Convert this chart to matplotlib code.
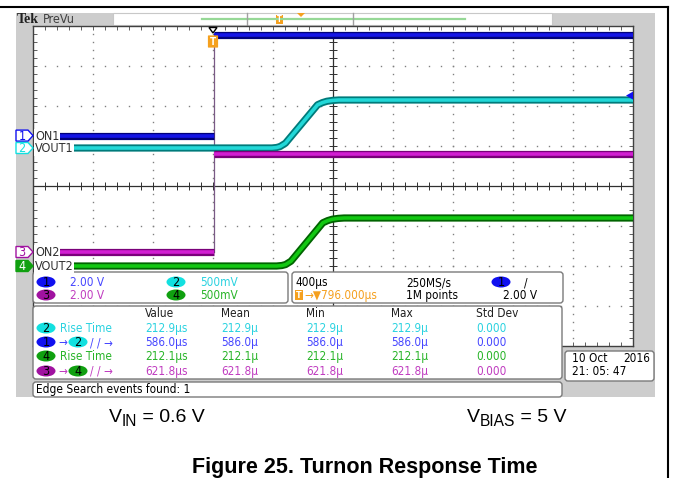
import matplotlib
matplotlib.use('Agg')
import matplotlib.pyplot as plt
from matplotlib.patches import Rectangle, FancyBboxPatch, Polygon, Ellipse
import numpy as np

plt.rcParams['font.family'] = ['Liberation Sans Narrow', 'DejaVu Sans']
plt.rcParams['font.stretch'] = 'condensed'

# time base: trigger at t = 0, 400 us/div, center is 796 us after trigger
t_div = 400.0
t_center = 796.0

# enable steps (us, V)
on1_t = [-1057, 0, 0, 2796]
on1_v = [0.0, 0.0, 5.05, 5.05]
on2_t = [-1057, 0, 0, 2796]
on2_v = [0.0, 0.0, 4.9, 4.9]

# output ramps (us, V)
vout1_t = [-957, 389, 420, 443, 479, 586, 693, 725, 755, 795, 835, 2796]
vout1_v = [0.0, 0.0, 0.006, 0.018, 0.06, 0.30, 0.54, 0.567, 0.584, 0.595, 0.6, 0.6]
vout2_t = [-957, 420, 455, 480, 516, 622, 728, 760, 790, 830, 870, 2796]
vout2_v = [0.0, 0.0, 0.006, 0.018, 0.06, 0.30, 0.54, 0.567, 0.584, 0.595, 0.6, 0.6]

ch_names = ['ON1', 'VOUT1', 'ON2', 'VOUT2']
volts_div = [2.0, 0.5, 2.0, 0.5]
scale_txt = ['2.00 V', '500mV', '2.00 V', '500mV']

meas_head = ['Value', 'Mean', 'Min', 'Max', 'Std Dev']
meas_rows = [
    ['212.9\u03bcs', '212.9\u03bc', '212.9\u03bc', '212.9\u03bc', '0.000'],
    ['586.0\u03bcs', '586.0\u03bc', '586.0\u03bc', '586.0\u03bc', '0.000'],
    ['212.1\u03bcs', '212.1\u03bc', '212.1\u03bc', '212.1\u03bc', '0.000'],
    ['621.8\u03bcs', '621.8\u03bc', '621.8\u03bc', '621.8\u03bc', '0.000'],
]

# per channel: ground position (div), trace dark/light, text colour, badge fill
ch_pos = [1.26, 0.95, -1.65, -2.0]
ch_dark = ['#00007a', '#007b7b', '#7a007a', '#006400']
ch_light = ['#1414e6', '#22d8d8', '#d21ed2', '#12c812']
ch_text = ['#4646ff', '#2ad2e0', '#c03cc0', '#28b428']
ch_badge = ['#1010f0', '#12e0e0', '#a012a0', '#10a010']
orange = '#f5a01e'

W, H = 673, 478
fig = plt.figure(figsize=(W / 100, H / 100), dpi=100)

# background layer (page + scope bezel)
bg = fig.add_axes([0, 0, 1, 1], zorder=0)
bg.set_xlim(0, W)
bg.set_ylim(H, 0)
bg.axis('off')
bg.add_patch(Rectangle((16, 13), 639, 384, color='#cdcdcd', lw=0))
bg.add_patch(Rectangle((113, 13), 439, 12, facecolor='white', edgecolor='#c8c8c8', lw=0.8))
bg.plot([0, 668], [7, 7], color='black', lw=1.5)
bg.plot([668, 668], [7, H], color='black', lw=1.5)
bg.plot([202, 465], [19, 19], color='#96d896', lw=1.6)
bg.plot([247, 247], [13, 25], color='#a0a0a0', lw=1.0)
bg.plot([353, 353], [13, 25], color='#a0a0a0', lw=1.0)
bg.add_patch(Rectangle((276, 14.5), 6.5, 9, color=orange, lw=0))
bg.text(279.2, 19.5, 'T', color='white', fontsize=5.5, ha='center', va='center', fontweight='bold')
bg.add_patch(Polygon([(297, 13), (305, 13), (301, 17)], color=orange, lw=0))
bg.text(17, 19.5, 'Tek', fontsize=10, fontweight='bold', family=['Liberation Serif'],
        va='center', ha='left', color='#202020')
bg.text(43, 19.5, 'PreVu', fontsize=9, va='center', ha='left', color='#404040')

# graticule
ax = fig.add_axes([33 / W, 1 - 346 / H, 600 / W, 320 / H], zorder=1)
x0 = t_center - 5 * t_div
x1 = t_center + 5 * t_div
ax.set_xlim(x0, x1)
ax.set_ylim(-4, 4)
ax.set_facecolor('white')
for s in ax.spines.values():
    s.set_color('#404040')
    s.set_linewidth(1.0)
minor_x = x0 + np.arange(0, 51) * t_div / 5
minor_y = -4 + np.arange(0, 41) * 0.2
ax.set_xticks(minor_x[1:-1])
ax.set_yticks(minor_y[1:-1])
ax.tick_params(direction='in', length=3, width=0.7, color='#606060',
               top=True, right=True, labelbottom=False, labelleft=False)

for k in range(1, 10):
    if k == 5:
        continue
    xv = x0 + k * t_div
    ax.plot(np.full(len(minor_y) - 2, xv), minor_y[1:-1], ls='none', marker='s',
            ms=1.0, color='#808080', mew=0)
for yv in [-3, -2, -1, 1, 2, 3]:
    ax.plot(minor_x[1:-1], np.full(len(minor_x) - 2, yv), ls='none', marker='s',
            ms=1.0, color='#808080', mew=0)
ax.axhline(0, color='#303030', lw=0.9)
ax.axvline(t_center, color='#303030', lw=0.9)
ax.plot(minor_x[1:-1], np.zeros(len(minor_x) - 2), ls='none', marker='|', ms=6,
        mew=0.7, color='#303030')
ax.plot(np.full(len(minor_y) - 2, t_center), minor_y[1:-1], ls='none', marker='_', ms=6,
        mew=0.7, color='#303030')


def band(t, v, ch):
    y = [ch_pos[ch] + vv / volts_div[ch] for vv in v]
    ax.plot(t, y, color=ch_dark[ch], lw=5.2, solid_capstyle='butt', solid_joinstyle='round', zorder=3)
    ax.plot(t, y, color=ch_light[ch], lw=2.6, solid_capstyle='butt', solid_joinstyle='round', zorder=4)


def step(t, v, ch):
    band(t[0:2], v[0:2], ch)
    band(t[2:4], v[2:4], ch)


step(on1_t, on1_v, 0)
band(vout1_t, vout1_v, 1)
step(on2_t, on2_v, 2)
band(vout2_t, vout2_v, 3)
# fast enable edges show as a single thin line at the trigger
ax.plot([0, 0], [ch_pos[0] + on1_v[2] / volts_div[0], ch_pos[2] + on2_v[1] / volts_div[2]],
        color='#7a5a86', lw=0.9, zorder=2)

# overlay: labels, markers and readouts
ov = fig.add_axes([0, 0, 1, 1], zorder=2)
ov.set_xlim(0, W)
ov.set_ylim(H, 0)
ov.axis('off')
ov.patch.set_alpha(0)


def px_y(div):
    return 186 - 40 * div


fs = 8.5

# channel ground markers and names
for i in range(4):
    yc = px_y(ch_pos[i])
    filled = i == 3
    ov.add_patch(Polygon([(16, yc - 5.5), (28, yc - 5.5), (33, yc), (28, yc + 5.5), (16, yc + 5.5)],
                         facecolor=ch_badge[i] if filled else 'white', edgecolor=ch_badge[i], lw=1.0))
    ov.text(22, yc + 0.5, str(i + 1), fontsize=9, ha='center', va='center',
            color='white' if filled else ch_badge[i])
    ov.text(35, yc + 0.5, ch_names[i], fontsize=9, ha='left', va='center', color='#303030',
            bbox=dict(boxstyle='square,pad=0.05', fc='white', ec='none'))

# trigger position and level markers
ov.add_patch(Polygon([(209, 27.5), (217, 27.5), (213, 33)], facecolor='white', edgecolor='black', lw=1.0))
ov.add_patch(FancyBboxPatch((208.5, 36), 9, 11, boxstyle='round,pad=0.6', color=orange, lw=0))
ov.text(213, 41.8, 'T', color='white', fontsize=7, ha='center', va='center', fontweight='bold')
ty = px_y(ch_pos[0] + 2.0 / volts_div[0])
ov.add_patch(Polygon([(626, ty), (633, ty - 4), (633, ty + 4)], color='#1010f0', lw=0))


def panel(x, y, w, h):
    ov.add_patch(FancyBboxPatch((x + 3, y + 3), w - 6, h - 6, boxstyle='round,pad=3',
                                facecolor='white', edgecolor='#7a7a7a', lw=1.0))


def badge(x, y, ch):
    ov.add_patch(Ellipse((x, y), 19, 11, color=ch_badge[ch], lw=0))
    ov.text(x, y + 0.5, str(ch + 1), fontsize=9, ha='center', va='center', color='black')


panel(33, 272, 255, 31)
panel(292, 272, 271, 31)
panel(33, 306, 529, 73)
panel(33, 382, 529, 15)
panel(565, 351, 89, 30)

# vertical settings
for ch, (bx, by) in enumerate([(46, 282), (176, 282), (46, 295), (176, 295)]):
    badge(bx, by, ch)
    ov.text(bx + 24, by + 0.5, scale_txt[ch], fontsize=fs, ha='left', va='center', color=ch_text[ch])

# horizontal / trigger settings
ov.text(296, 282.5, '400\u03bcs', fontsize=fs, ha='left', va='center', color='black')
ov.add_patch(Rectangle((295, 290), 8, 10, color=orange, lw=0))
ov.text(299, 295.5, 'T', fontsize=6.5, ha='center', va='center', color='white', fontweight='bold')
ov.text(304, 295.5, '\u2192\u25bc796.000\u03bcs', fontsize=fs, ha='left', va='center', color=orange)
ov.text(406, 282.5, '250MS/s', fontsize=fs, ha='left', va='center', color='black')
ov.text(406, 295.5, '1M points', fontsize=fs, ha='left', va='center', color='black')
badge(501, 282, 0)
ov.text(524, 282.5, '/', fontsize=fs, ha='left', va='center', color='black')
ov.text(537, 295.5, '2.00 V', fontsize=fs, ha='right', va='center', color='black')

# measurement table
col_x = [145, 221, 306, 391, 476]
for cx, hd in zip(col_x, meas_head):
    ov.text(cx, 313.5, hd, fontsize=fs, ha='left', va='center', color='#202020')
row_y = [328, 342, 356, 371]
row_ch = [1, 0, 3, 2]
for r, (ry, ch, vals) in enumerate(zip(row_y, row_ch, meas_rows)):
    badge(46, ry, ch)
    if r in (0, 2):
        ov.text(60, ry + 0.5, 'Rise Time', fontsize=fs, ha='left', va='center', color=ch_text[ch])
    else:
        ov.text(58, ry + 0.5, '\u2192', fontsize=fs, ha='left', va='center', color=ch_text[ch])
        badge(78, ry, ch + 1)
        ov.text(90, ry + 0.5, '/ / \u2192', fontsize=fs, ha='left', va='center', color=ch_text[ch])
    for cx, val in zip(col_x, vals):
        ov.text(cx, ry + 0.5, val, fontsize=fs, ha='left', va='center', color=ch_text[ch])

ov.text(36, 389.5, 'Edge Search events found: 1', fontsize=fs, ha='left', va='center', color='black')
ov.text(572, 358.5, '10 Oct', fontsize=fs, ha='left', va='center', color='black')
ov.text(650, 358.5, '2016', fontsize=fs, ha='right', va='center', color='black')
ov.text(572, 371.5, '21: 05: 47', fontsize=fs, ha='left', va='center', color='black')

# page annotations: symbol with a 0.8-size subscript, then the rest of the line
renderer = fig.canvas.get_renderer()
inv = ov.transData.inverted()


def sub_label(x, y, base, sub, rest, size):
    kw = dict(family=['Liberation Sans'], color='black', va='baseline', ha='left')
    t1 = ov.text(x, y, base, fontsize=size, **kw)
    xe = inv.transform(t1.get_window_extent(renderer))[1][0]
    t2 = ov.text(xe, y + 4, sub, fontsize=size * 0.8, **kw)
    xe = inv.transform(t2.get_window_extent(renderer))[1][0]
    ov.text(xe, y, rest, fontsize=size, **kw)


sub_label(109, 422, 'V', 'IN', ' = 0.6 V', 14)
sub_label(467, 422, 'V', 'BIAS', ' = 5 V', 14)
ov.text(365, 467, 'Figure 25. Turnon Response Time', fontsize=15.5, fontweight='bold',
        family=['Liberation Sans'], ha='center', va='center', color='black')

fig.savefig('out.png', dpi=100)
